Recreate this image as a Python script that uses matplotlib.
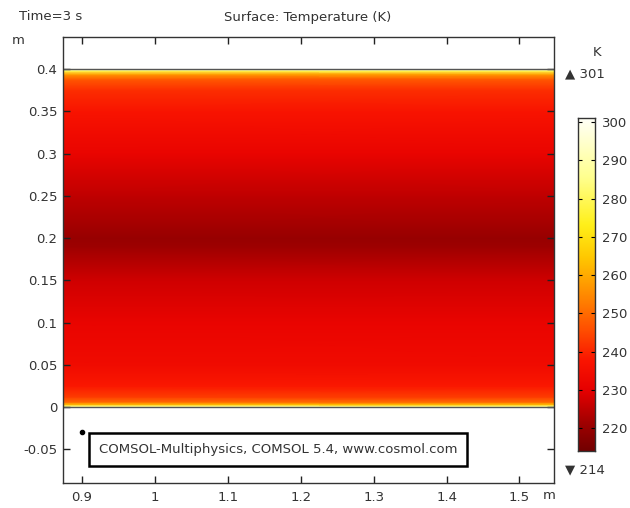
import matplotlib.pyplot as plt
import numpy as np
from matplotlib.colors import LinearSegmentedColormap

# Temperature profile across the channel height at t = 3 s
y_pos = [0.0, 0.001, 0.003, 0.006, 0.012, 0.025, 0.05, 0.1, 0.15, 0.19, 0.2,
         0.25, 0.3, 0.35, 0.375, 0.388, 0.394, 0.398, 0.4]
temp_k = [301, 285, 263, 250, 243, 238, 234, 231, 227, 221, 220,
          225, 231, 237, 241, 247, 258, 279, 301]
x_span = [0.85, 1.6]
t_min, t_max = 214, 301
cbar_ticks = [220, 230, 240, 250, 260, 270, 280, 290, 300]
x_ticks = [0.9, 1.0, 1.1, 1.2, 1.3, 1.4, 1.5]
x_labels = ['0.9', '1', '1.1', '1.2', '1.3', '1.4', '1.5']
y_ticks = [-0.05, 0, 0.05, 0.1, 0.15, 0.2, 0.25, 0.3, 0.35, 0.4]
y_labels = ['-0.05', '0', '0.05', '0.1', '0.15', '0.2', '0.25', '0.3', '0.35', '0.4']

thermal_light = LinearSegmentedColormap.from_list('thermal_light', [
    (0.00, (0.45, 0.00, 0.00)),
    (0.08, (0.62, 0.00, 0.00)),
    (0.18, (0.90, 0.00, 0.00)),
    (0.27, (0.98, 0.08, 0.00)),
    (0.36, (1.00, 0.30, 0.00)),
    (0.45, (1.00, 0.50, 0.00)),
    (0.58, (1.00, 0.78, 0.00)),
    (0.68, (1.00, 0.94, 0.10)),
    (0.82, (1.00, 1.00, 0.55)),
    (1.00, (1.00, 1.00, 0.97)),
])

txt = '#333333'
plt.rcParams['font.family'] = 'DejaVu Sans'
plt.rcParams['font.size'] = 9.5

fig = plt.figure(figsize=(6.3, 5.08), dpi=100)
ax = fig.add_axes([0.1, 0.049, 0.779, 0.878])

X, Y = np.meshgrid(x_span, y_pos)
Z = np.tile(np.array(temp_k, dtype=float)[:, None], (1, len(x_span)))
ax.pcolormesh(X, Y, Z, cmap=thermal_light, vmin=t_min, vmax=t_max,
              shading='gouraud', zorder=1)
ax.axhline(0, color='#555555', lw=1, zorder=2)
ax.axhline(0.4, color='#555555', lw=1, zorder=2)

ax.set_xlim(0.874, 1.547)
ax.set_ylim(-0.09, 0.438)
ax.set_xticks(x_ticks, x_labels)
ax.set_yticks(y_ticks, y_labels)
ax.tick_params(direction='in', length=5, width=1, colors='#222222',
               labelcolor=txt, top=True, right=True, pad=6)
ax.tick_params(axis='y', pad=4)
for s in ax.spines.values():
    s.set_color('#333333')
    s.set_linewidth(1)

# point marker with the watermark box
ax.plot([0.9], [-0.03], 'o', color='black', ms=3, zorder=3)
ax.text(0.923, -0.0505, 'COMSOL-Multiphysics, COMSOL 5.4, www.cosmol.com',
        ha='left', va='center', color=txt, fontsize=9.5, zorder=3,
        bbox=dict(boxstyle='square,pad=0.75', fc='white', ec='black', lw=1.8))

fig.text(0.081, 0.968, 'Time=3 s', ha='center', va='center', color=txt)
fig.text(0.489, 0.965, 'Surface: Temperature (K)', ha='center', va='center', color=txt)
fig.text(0.029, 0.921, 'm', ha='center', va='center', color=txt)
fig.text(0.872, 0.024, 'm', ha='center', va='center', color=txt)

# colour legend
cax = fig.add_axes([0.918, 0.112, 0.026, 0.655])
grad = np.linspace(t_min, t_max, 256)[:, None]
cax.imshow(grad, aspect='auto', origin='lower', cmap=thermal_light,
           vmin=t_min, vmax=t_max, extent=[0, 1, t_min, t_max])
cax.set_ylim(t_min, t_max)
cax.set_xticks([])
cax.set_yticks(cbar_ticks)
cax.yaxis.tick_right()
cax.tick_params(axis='y', direction='in', length=3, width=0.8, left=True,
                right=True, labelleft=False, labelright=True,
                labelcolor=txt, pad=5)
for s in cax.spines.values():
    s.set_color('#333333')
    s.set_linewidth(1)

fig.text(0.948, 0.897, 'K', ha='center', va='center', color=txt)
fig.text(0.897, 0.854, '\u25b2 301', ha='left', va='center', color=txt)
fig.text(0.897, 0.075, '\u25bc 214', ha='left', va='center', color=txt)

fig.savefig('out.png', dpi=100, facecolor='white')
